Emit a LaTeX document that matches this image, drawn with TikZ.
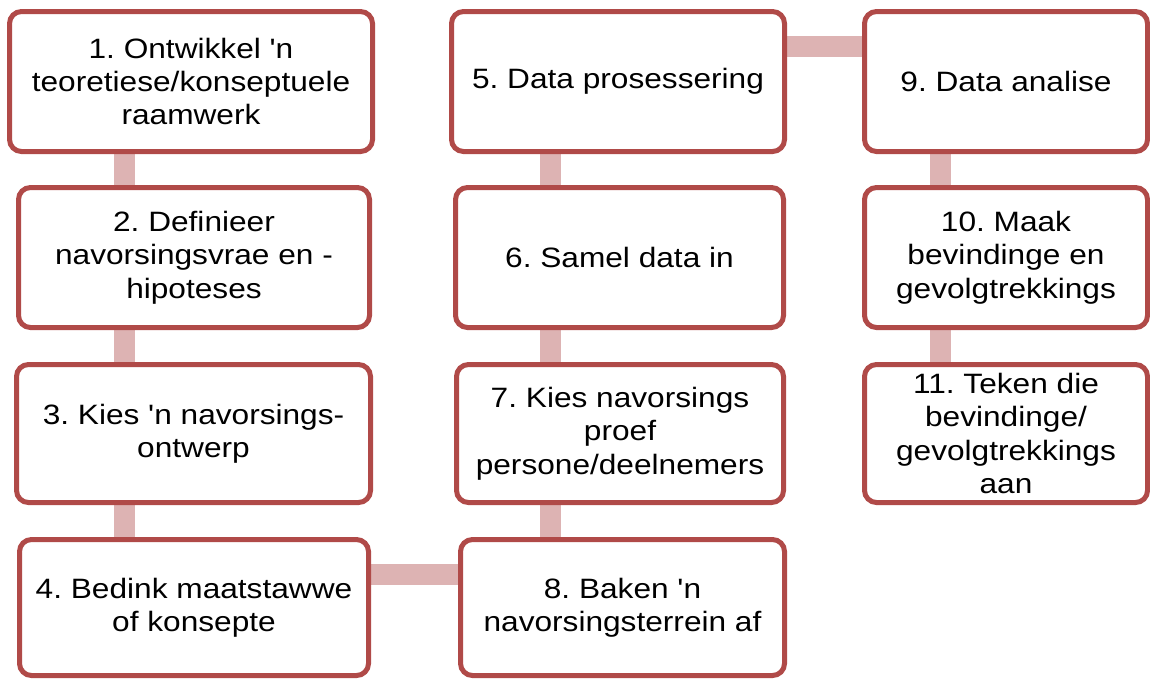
\documentclass[tikz,border=0pt]{standalone}
\usepackage{fontspec}
\setmainfont{Liberation Sans}[FakeStretch=1.13, Ligatures=TeXOff]
\usetikzlibrary{backgrounds}
\definecolor{boxborder}{RGB}{176,74,72}
\definecolor{connfill}{RGB}{221,179,179}
\begin{document}
\frenchspacing
\begin{tikzpicture}[x=1pt,y=-1pt,
  stepbox/.style={draw=boxborder, line width=5pt, fill=white, rounded corners=12pt,
    align=center, inner sep=0pt, outer sep=0pt,
    font=\fontsize{28}{33.4}\selectfont},
  conn/.style={draw=connfill, line width=21pt}]
\useasboundingbox (0,0) rectangle (1150,678);
\clip (0,0) rectangle (1150,678);
% connector axes
\coordinate (c1) at (124,0);
\coordinate (c2) at (550,0);
\coordinate (c3) at (940,0);
\coordinate (h1) at (0,46.5);
\coordinate (h2) at (0,574);
% boxes
\node[stepbox, minimum width=363pt, minimum height=140pt] (n1) at (191,81.5) {1. Ontwikkel 'n\\teoretiese/konseptuele\\raamwerk};
\node[stepbox, minimum width=351pt, minimum height=140pt] (n2) at (194,257.5) {2. Definieer\\navorsingsvrae en -\\hipoteses};
\node[stepbox, minimum width=354pt, minimum height=138pt] (n3) at (193.5,433.5) {3. Kies 'n navorsings-\\ontwerp};
\node[stepbox, minimum width=349pt, minimum height=136pt] (n4) at (194,607.5) {4. Bedink maatstawwe\\of konsepte};
\node[stepbox, minimum width=333pt, minimum height=140pt] (n5) at (618,81.5) {5. Data prosessering};
\node[stepbox, minimum width=328pt, minimum height=140pt] (n6) at (619.5,257.5) {6. Samel data in};
\node[stepbox, minimum width=327pt, minimum height=138pt] (n7) at (620,433.5) {7. Kies navorsings\\proef\\persone/deelnemers};
\node[stepbox, minimum width=324pt, minimum height=136pt] (n8) at (622.5,607.5) {8. Baken 'n\\navorsingsterrein af};
\node[stepbox, minimum width=283pt, minimum height=140pt] (n9) at (1006,81.5) {9. Data analise};
\node[stepbox, minimum width=283pt, minimum height=140pt] (n10) at (1006,257.5) {10. Maak\\bevindinge en\\gevolgtrekkings};
\node[stepbox, minimum width=283pt, minimum height=138pt] (n11) at (1006,433.5) {11. Teken die\\bevindinge/\\gevolgtrekkings\\aan};
% connectors (behind boxes)
\begin{scope}[on background layer]
\draw[conn] (n1.south -| c1) -- (n2.north -| c1);
\draw[conn] (n2.south -| c1) -- (n3.north -| c1);
\draw[conn] (n3.south -| c1) -- (n4.north -| c1);
\draw[conn] (n4.east |- h2) -- (n8.west |- h2);
\draw[conn] (n8.north -| c2) -- (n7.south -| c2);
\draw[conn] (n7.north -| c2) -- (n6.south -| c2);
\draw[conn] (n6.north -| c2) -- (n5.south -| c2);
\draw[conn] (n5.east |- h1) -- (n9.west |- h1);
\draw[conn] (n9.south -| c3) -- (n10.north -| c3);
\draw[conn] (n10.south -| c3) -- (n11.north -| c3);
\end{scope}
\end{tikzpicture}
\end{document}
